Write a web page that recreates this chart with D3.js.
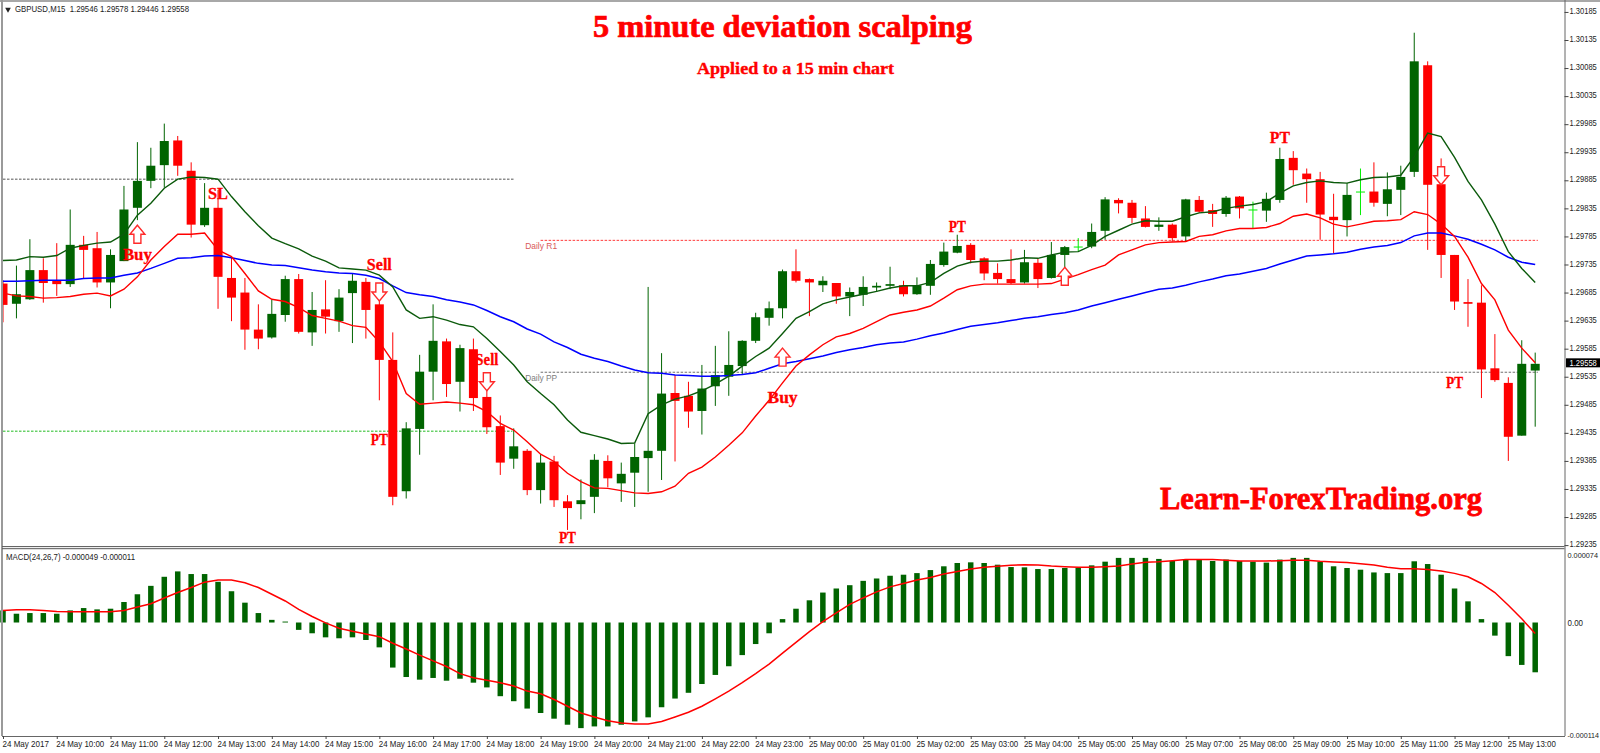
<!DOCTYPE html>
<html>
<head>
<meta charset="utf-8">
<title>5 minute deviation scalping</title>
<script src="https://cdn.jsdelivr.net/npm/d3@7/dist/d3.min.js"></script>
<style>
html,body{margin:0;padding:0;background:#fff;overflow:hidden}
svg{display:block}
</style>
</head>
<body>
<svg id="c" width="1600" height="753"></svg>
<script>
// All prices below are in points above 1.29000 (558 = 1.29558). Index = 15-minute bar number.
const open = [701,665,673,725,707,700,770,764,703,741,836,884,912,956,902,805,836,711,685,619,605,645,709,614,655,634,684,704,664,565,331,442,544,598,526,584,499,447,389,403,333,384,313,308,321,385,345,364,390,403,506,501,474,518,535,554,599,640,657,723,709,698,702,678,681,694,697,698,682,697,734,756,770,746,720,709,703,738,711,752,767,767,795,850,845,817,802,806,785,850,832,825,856,833,831,850,925,897,887,820,814,865,865,843,868,900,1090,878,752,668,667,550,524,430,546];
const close = [663,682,725,702,700,770,761,703,752,833,884,911,955,911,806,836,713,676,619,603,647,709,615,654,642,676,706,654,565,321,443,544,599,522,586,497,445,382,411,333,382,315,301,315,387,354,362,392,403,505,492,473,514,538,556,599,641,657,723,706,703,706,678,686,695,697,700,682,698,736,758,768,743,719,709,702,739,709,752,766,767,793,851,844,818,802,806,782,851,829,825,854,835,833,852,923,903,887,824,814,859,865,845,869,891,1097,877,752,669,665,548,529,428,558,558];
const high = [707,733,780,746,773,833,786,793,762,875,953,943,986,964,917,880,868,748,711,664,672,715,718,686,707,691,718,711,681,614,454,574,664,603,592,603,524,466,443,406,397,394,324,352,397,395,382,416,695,577,538,526,556,590,616,600,649,669,726,762,710,714,702,694,714,703,731,706,712,743,774,788,773,748,737,762,761,746,775,768,782,808,855,853,850,839,819,808,852,857,843,857,857,847,863,943,937,906,900,861,880,906,917,899,911,1148,1097,924,752,709,698,611,534,600,578];
const low = [632,639,672,667,679,695,710,694,657,741,814,871,872,893,783,802,656,634,583,584,603,633,612,590,612,615,595,603,493,306,318,396,493,499,473,474,433,360,371,324,309,303,262,281,292,338,312,303,330,351,384,444,432,483,501,538,595,626,639,703,643,686,665,643,661,686,691,678,681,681,731,755,737,707,701,700,701,693,710,730,758,764,779,826,809,801,795,776,777,827,802,820,817,799,811,845,877,845,779,755,785,823,838,821,823,891,761,711,654,624,497,526,385,430,446];

const envUpper = [742,743,749,748,751,764,769,773,775,789,823,844,871,887,891,890,887,856,829,804,782,772,763,750,741,729,727,725,716,695,654,639,642,636,628,624,603,580,556,526,505,485,458,436,430,424,416,417,469,485,495,501,510,522,536,554,571,586,612,639,651,665,672,677,682,687,693,697,697,703,719,732,739,741,741,743,747,746,752,757,758,769,785,796,807,813,812,812,820,827,829,835,839,842,847,862,875,881,884,881,880,886,890,891,894,927,969,963,926,883,850,807,758,728,703];
const envLower = [684,679,678,675,676,678,682,684,679,691,713,743,767,789,789,791,761,749,719,688,673,669,658,644,639,634,626,623,597,562,505,486,488,490,488,485,473,452,440,419,397,384,363,348,337,336,332,328,327,330,340,363,374,392,413,435,465,493,524,554,574,592,606,612,621,633,645,650,654,661,675,690,697,700,700,700,700,700,701,709,717,726,734,752,761,770,774,775,776,785,788,795,799,799,801,808,821,825,818,807,802,807,812,813,815,829,824,807,785,748,701,672,618,586,560];
const maBlue = [705,705,706,707,707,707,710,711,711,716,720,728,737,746,747,750,751,747,742,737,734,733,729,725,722,720,719,716,710,697,685,681,678,672,668,663,653,642,633,620,611,597,587,575,568,562,554,547,542,541,538,537,536,536,537,539,542,550,558,562,567,572,578,583,587,592,595,597,602,608,613,619,625,628,631,635,639,642,646,649,654,661,667,673,679,685,691,693,698,704,709,715,718,723,728,736,743,750,752,754,757,762,766,769,774,786,791,791,786,780,771,761,748,739,735];

// MACD histogram and signal, in millionths
const macdHist = [12.8,9.3,10,10,9.3,12.8,15.3,13.9,14.6,21.7,29.9,38.8,48.4,54.1,51.3,51.3,43.1,33.1,21,10,2.8,1,-7.8,-11.4,-15.7,-16.7,-15.7,-18.5,-26.3,-47.7,-57.7,-60.5,-58.7,-61.6,-59.5,-63.7,-68.7,-78,-83.3,-91.1,-95.8,-101.8,-108.2,-111.8,-110,-110,-108.2,-104.7,-100.4,-89.7,-80.5,-74.4,-65.1,-55.5,-46.3,-34.5,-22.8,-11.4,3.6,14.6,23.5,31.7,36,39.5,44.1,46.6,49.5,50.6,52.3,55.5,59.5,63,63.7,63,61.2,58.7,58.4,56.6,56.6,57.7,58,60.5,64.4,68.4,68.4,68.4,67.3,65.1,66.2,66.9,65.1,66.6,65.1,64.4,63.4,66.6,68.4,68.4,64.4,59.5,57.7,55.9,53,52.3,52.3,64.8,61.9,50.6,36,22.4,3.6,-13.9,-35.6,-44.9,-52.7];
const macdSignal = [12.8,13.5,13.5,12.8,11.7,11.4,11.4,11.4,11.4,12.8,16.4,19.9,26,31.7,37,42.7,45.1,44.9,42,37,29.9,22.8,13.9,6.4,-0.4,-6,-9.3,-12.1,-15,-22,-28,-34.5,-40.6,-46.6,-54.1,-58.4,-61.2,-63.7,-67.3,-72.6,-75.5,-81.5,-88.6,-95.8,-100,-104,-106.4,-107.5,-107.5,-104.7,-100,-95,-88.6,-80.8,-72.6,-63.7,-54.1,-44,-32.4,-21,-9.6,1,10.3,19.2,26,32.4,37.7,41.3,44.9,47.7,51.3,54.1,56.6,58.4,59.5,60.5,61.2,60.9,59.8,59.1,58.4,58.4,59.1,59.8,61.9,63.7,64.4,65.5,66.6,66.6,66.6,65.9,65.1,65.1,65.1,65.5,65.9,65.9,64.8,64.1,63.4,62.3,60.9,58.4,57,57,56.2,54.5,52,48.4,41.3,31.7,18.2,3.9,-11.7];

const timeLabels = ["24 May 2017","24 May 10:00","24 May 11:00","24 May 12:00","24 May 13:00","24 May 14:00","24 May 15:00","24 May 16:00","24 May 17:00","24 May 18:00","24 May 19:00","24 May 20:00","24 May 21:00","24 May 22:00","24 May 23:00","25 May 00:00","25 May 01:00","25 May 02:00","25 May 03:00","25 May 04:00","25 May 05:00","25 May 06:00","25 May 07:00","25 May 08:00","25 May 09:00","25 May 10:00","25 May 11:00","25 May 12:00","25 May 13:00"];
const priceTicks = [1.30185,1.30135,1.30085,1.30035,1.29985,1.29935,1.29885,1.29835,1.29785,1.29735,1.29685,1.29635,1.29585,1.29535,1.29485,1.29435,1.29385,1.29335,1.29285,1.29235];
const macdTicks = [74,0,-114];
const macdTickText = ["0.000074","0.00","-0.000114"];

// [from bar, to bar, price points, colour]
const levelLines = [[0,38,887,"#555555"],[40,114.2,778,"#ff3c3c"],[40,114.2,543,"#707070"],[0,37.9,438,"#22bb22"]];
const levelNames = [["Daily R1",38.85,778,"#d85a5a"],["Daily PP",38.85,543,"#808080"]];
const upArrows = [[10,805],[58,586],[79,730]];
const downArrows = [[28,670],[36,510],[107,877]];
// [text, bar, baseline price points, width]
const notes = [["Buy",10,743,29],["SL",16,852,20],["Sell",28,725,25],["Sell",36,556,23],["PT",28,413,17],["PT",42,239,17],["Buy",58,488,30],["PT",71,793,17],["PT",95,952,20],["PT",108,515,17]];

const svg = d3.select("#c");
const sans = "'Liberation Sans',Arial,sans-serif", serif = "'Liberation Serif','Times New Roman',serif";
const x = d3.scaleLinear().domain([0,114]).range([3,1535.2]);
const yP = d3.scaleLinear().domain([1.30135,1.29235]).range([40,545.1]);
const y = p => yP(1.29 + p/1e5);
const yM = d3.scaleLinear().domain([74,-114]).range([552.6,730.2]);
const RED="#ff0000", GREEN="#006400", LIME="#00ee00";
const AXIS_Y = 736;

const defs = svg.append("defs");
defs.append("clipPath").attr("id","main").append("rect").attr("x",2.5).attr("y",2).attr("width",1562).attr("height",544);

const main = svg.append("g").attr("clip-path","url(#main)");

// level lines
main.selectAll("line.lvl").data(levelLines).join("line").attr("class","lvl")
  .attr("x1",d=>x(d[0])).attr("x2",d=>x(d[1])).attr("y1",d=>y(d[2])).attr("y2",d=>y(d[2]))
  .attr("stroke",d=>d[3]).attr("stroke-width",1).attr("stroke-dasharray","2.5 1.5");
main.selectAll("text.lvln").data(levelNames).join("text").attr("class","lvln")
  .attr("x",d=>x(d[1])).attr("y",d=>y(d[2])+8.5).attr("fill",d=>d[3])
  .attr("font-family",sans).attr("font-size",8.6).attr("textLength",32).attr("lengthAdjust","spacingAndGlyphs").text(d=>d[0]);

// candles
const bars = d3.range(open.length);
const colorOf = i => close[i]===open[i] ? LIME : (close[i]>open[i] ? GREEN : RED);
main.selectAll("line.w").data(bars).join("line").attr("class","w")
  .attr("x1",i=>x(i)).attr("x2",i=>x(i)).attr("y1",i=>y(high[i])).attr("y2",i=>y(low[i]))
  .attr("stroke",colorOf).attr("stroke-width",1);
main.selectAll("rect.b").data(bars).join("rect").attr("class","b")
  .attr("x",i=>x(i)-4.5).attr("width",9)
  .attr("y",i=>y(Math.max(open[i],close[i])))
  .attr("height",i=>Math.max(close[i]===open[i]?1:1.5,Math.abs(y(open[i])-y(close[i]))))
  .attr("fill",colorOf);

// indicator lines
const ln = d3.line().x((d,i)=>x(i)).y(d=>y(d));
[[maBlue,"#0000ff",1.5],[envLower,"#ff0000",1.4],[envUpper,"#0b5a0b",1.4]].forEach(([a,c,w])=>{
  main.append("path").attr("d",ln(a)).attr("fill","none").attr("stroke",c).attr("stroke-width",w);
});

// arrows
const arrowPts = s => [[0,0],[7.5,9],[3.5,9],[3.5,18],[-3.5,18],[-3.5,9],[-7.5,9]].map(p=>[p[0],p[1]*s]);
[[upArrows,1],[downArrows,-1]].forEach(([arr,s])=>{
  main.selectAll(null).data(arr).join("polygon")
    .attr("points",d=>arrowPts(s).map(p=>[x(d[0])+p[0],y(d[1])+p[1]].join(",")).join(" "))
    .attr("fill","#fff").attr("stroke","#ff2a2a").attr("stroke-width",1.4);
});

// notes
svg.selectAll("text.note").data(notes).join("text").attr("class","note")
  .attr("x",d=>x(d[1])).attr("y",d=>y(d[2])).attr("text-anchor","middle")
  .attr("font-family",serif).attr("font-weight","bold").attr("font-size",16).attr("fill",RED)
  .attr("stroke",RED).attr("stroke-width",0.3)
  .attr("textLength",d=>d[3]).attr("lengthAdjust","spacingAndGlyphs").text(d=>d[0]);

// titles
const big = (t,xx,yy,fs,w,sw)=>svg.append("text").attr("x",xx).attr("y",yy).attr("font-family",serif).attr("font-weight","bold")
  .attr("font-size",fs).attr("fill",RED).attr("stroke",RED).attr("stroke-width",sw)
  .attr("textLength",w).attr("lengthAdjust","spacingAndGlyphs").text(t);
big("5 minute deviation scalping",593,36.5,31,379,0.7);
big("Applied to a 15 min chart",697,74,17.5,197,0.4);
big("Learn-ForexTrading.org",1160,509,32.5,322,0.8);

// MACD pane
svg.selectAll("rect.h").data(macdHist).join("rect").attr("class","h")
  .attr("x",(d,i)=>x(i)-2.75).attr("width",5.5)
  .attr("y",d=>Math.min(yM(d),yM(0))).attr("height",d=>Math.abs(yM(d)-yM(0)))
  .attr("fill",GREEN);
svg.append("path").attr("d",d3.line().x((d,i)=>x(i)).y(d=>yM(d))(macdSignal))
  .attr("fill","none").attr("stroke",RED).attr("stroke-width",1.5);

// frame
const frame = (a,b,c,d,col,w)=>svg.append("line").attr("x1",a).attr("y1",b).attr("x2",c).attr("y2",d).attr("stroke",col).attr("stroke-width",w);
frame(0,1,1600,1,"#a8a8a8",2);
frame(2,0,2,AXIS_Y,"#9a9a9a",2);
frame(2,546.6,1564.5,546.6,"#555",1);
frame(2,548.7,1564.5,548.7,"#555",1);

// axes
const txt = (sel)=>sel.attr("font-family",sans).attr("font-size",8.4).attr("fill","#222");
const right = d3.axisRight(yP).tickValues(priceTicks).tickSize(4).tickPadding(1).tickFormat(d3.format(".5f"));
const gR = svg.append("g").attr("transform","translate(1564.5,0)").call(right);
gR.select(".domain").attr("d","M0.5,0V"+AXIS_Y).attr("stroke","#666");
gR.selectAll(".tick line").attr("stroke","#444");
gR.selectAll(".tick text").call(txt).attr("textLength",27.3).attr("lengthAdjust","spacingAndGlyphs").attr("dy","0.2em");

const rightM = d3.axisRight(yM).tickValues(macdTicks).tickSize(0).tickPadding(3).tickFormat((d,i)=>macdTickText[i]);
const gM = svg.append("g").attr("transform","translate(1564.5,0)").call(rightM);
gM.select(".domain").remove();
gM.selectAll(".tick text").call(txt).attr("dy","0.36em").attr("y",(d,i)=>[2,0,4.5][i])
  .attr("font-size",(d,i)=>[7.4,8.4,7][i])
  .attr("textLength",(d,i)=>[30.5,15.5,31.5][i]).attr("lengthAdjust","spacingAndGlyphs");

const bottom = d3.axisBottom(x).tickValues(timeLabels.map((d,i)=>i*4)).tickSize(3).tickPadding(2).tickFormat((d,i)=>timeLabels[i]);
const gB = svg.append("g").attr("transform","translate(0,"+AXIS_Y+")").call(bottom);
gB.select(".domain").attr("d","M2,0.5H1565").attr("stroke","#666");
gB.selectAll(".tick line").attr("stroke","#444");
gB.selectAll(".tick text").call(txt).attr("text-anchor","start").attr("x",-1).attr("y",5.5)
  .attr("textLength",(d,i)=>i===0?46.5:48).attr("lengthAdjust","spacingAndGlyphs");

// last price tag
const last = close[close.length-1];
const tagY = y(last)-1;
svg.append("rect").attr("x",1566).attr("y",tagY-4.5).attr("width",34).attr("height",9).attr("fill","#000");
svg.append("text").attr("x",1569.5).attr("y",tagY+3).attr("font-family",sans).attr("font-size",8.4).attr("fill","#fff")
  .attr("textLength",27.3).attr("lengthAdjust","spacingAndGlyphs").text(d3.format(".5f")(1.29+last/1e5));

// legends
svg.append("path").attr("d",d3.symbol(d3.symbolTriangle,14)()).attr("transform","translate(8,9.5) rotate(180)").attr("fill","#222");
const leg=(t,xx,yy,w)=>svg.append("text").attr("x",xx).attr("y",yy).attr("font-family",sans).attr("font-size",8.6).attr("fill","#222")
  .attr("textLength",w).attr("lengthAdjust","spacingAndGlyphs").text(t);
leg("GBPUSD,M15  1.29546 1.29578 1.29446 1.29558".replace("  ","\u00a0\u00a0"),15,12,174);
leg("MACD(24,26,7) -0.000049 -0.000011",6,559.5,129);
</script>
</body>
</html>
